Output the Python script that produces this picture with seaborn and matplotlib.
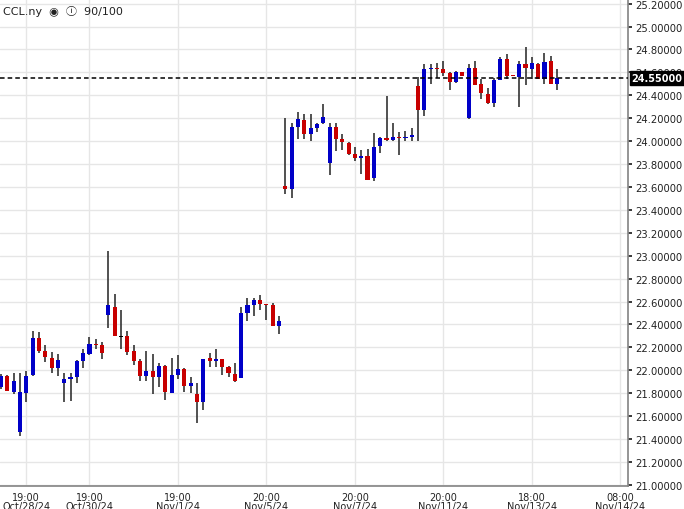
import numpy as np
import pandas as pd
import seaborn as sns
import matplotlib.pyplot as plt
from matplotlib.ticker import FormatStrFormatter

opens = [21.85, 21.95, 21.81, 21.46, 21.80, 21.96, 22.28, 22.17, 22.11, 22.02,
         21.89, 21.92, 21.94, 22.08, 22.14, 22.23, 22.22, 22.48, 22.55, 22.29,
         22.30, 22.17, 22.08, 21.95, 21.99, 21.94, 22.04, 21.80, 21.96, 22.01,
         21.86, 21.79, 21.72, 22.11, 22.08, 22.10, 22.03, 21.97, 21.93, 22.50,
         22.57, 22.61, 22.58, 22.57, 22.39,
         23.61, 23.58, 24.12, 24.18, 24.06, 24.11, 24.16, 23.81, 24.12, 24.02,
         23.98, 23.89, 23.85, 23.87, 23.68, 23.96, 24.03, 24.01, 24.04, 24.03,
         24.04, 24.48, 24.27, 24.63, 24.64, 24.63, 24.59, 24.52, 24.60, 24.20,
         24.64, 24.50, 24.41, 24.33, 24.53, 24.72, 24.58, 24.56, 24.67, 24.63,
         24.67, 24.54, 24.70, 24.50]
closes = [21.95, 21.82, 21.91, 21.81, 21.95, 22.28, 22.17, 22.12, 22.02, 22.09,
          21.92, 21.94, 22.08, 22.15, 22.23, 22.22, 22.15, 22.57, 22.30, 22.29,
          22.16, 22.08, 21.95, 21.99, 21.94, 22.04, 21.81, 21.96, 22.01, 21.86,
          21.89, 21.72, 22.10, 22.08, 22.10, 22.03, 21.98, 21.91, 22.50, 22.57,
          22.61, 22.58, 22.57, 22.39, 22.43,
          23.58, 24.12, 24.19, 24.06, 24.11, 24.15, 24.21, 24.12, 24.02, 23.99,
          23.89, 23.85, 23.87, 23.66, 23.95, 24.03, 24.01, 24.04, 24.03, 24.04,
          24.05, 24.27, 24.63, 24.64, 24.63, 24.59, 24.52, 24.60, 24.57, 24.64,
          24.49, 24.42, 24.33, 24.53, 24.72, 24.57, 24.57, 24.67, 24.64, 24.68,
          24.54, 24.69, 24.50, 24.55]
highs = [21.97, 21.96, 21.98, 21.98, 21.99, 22.34, 22.33, 22.22, 22.16, 22.14,
         21.98, 21.98, 22.09, 22.19, 22.29, 22.27, 22.25, 23.04, 22.67, 22.53,
         22.34, 22.22, 22.10, 22.17, 22.14, 22.06, 22.05, 22.11, 22.13, 22.02,
         21.94, 21.89, 22.10, 22.15, 22.19, 22.10, 22.04, 22.06, 22.55, 22.63,
         22.63, 22.66, 22.58, 22.59, 22.47,
         24.20, 24.16, 24.25, 24.24, 24.24, 24.16, 24.32, 24.16, 24.16, 24.06,
         23.99, 23.95, 23.92, 23.93, 24.07, 24.04, 24.39, 24.16, 24.08, 24.09,
         24.11, 24.56, 24.67, 24.67, 24.68, 24.70, 24.60, 24.61, 24.60, 24.67,
         24.70, 24.54, 24.46, 24.55, 24.73, 24.76, 24.58, 24.70, 24.82, 24.73,
         24.68, 24.77, 24.74, 24.63]
lows = [21.84, 21.82, 21.79, 21.43, 21.72, 21.95, 22.15, 22.07, 21.98, 21.95,
        21.72, 21.73, 21.89, 22.02, 22.13, 22.19, 22.10, 22.37, 22.30, 22.19,
        22.13, 22.05, 21.91, 21.91, 21.79, 21.85, 21.74, 21.80, 21.92, 21.81,
        21.80, 21.54, 21.65, 22.03, 22.03, 21.96, 21.94, 21.90, 21.93, 22.43,
        22.47, 22.53, 22.44, 22.39, 22.32,
        23.54, 23.50, 24.02, 24.02, 24.00, 24.08, 24.15, 23.70, 23.91, 23.92,
        23.88, 23.83, 23.71, 23.66, 23.65, 23.90, 24.00, 24.00, 23.88, 24.00,
        24.00, 24.00, 24.22, 24.50, 24.55, 24.57, 24.45, 24.51, 24.57, 24.19,
        24.49, 24.37, 24.32, 24.30, 24.53, 24.54, 24.57, 24.30, 24.49, 24.54,
        24.54, 24.50, 24.50, 24.45]

tick_pos = [4, 14, 28, 42, 56, 70, 84, 98]
tick_labels = ["19:00\nOct/28/24", "19:00\nOct/30/24", "19:00\nNov/1/24",
               "20:00\nNov/5/24", "20:00\nNov/7/24", "20:00\nNov/11/24",
               "18:00\nNov/13/24", "08:00\nNov/14/24"]
last_price = 24.55

df = pd.DataFrame({"open": opens, "close": closes, "high": highs, "low": lows})
df["i"] = np.arange(len(df))
df["bottom"] = df[["open", "close"]].min(axis=1)
df["height"] = (df["close"] - df["open"]).abs()
df["color"] = np.where(df["close"] > df["open"], "#0000c8",
                       np.where(df["close"] < df["open"], "#c80000", "#000000"))

sns.set_theme(style="white")
plt.rcParams["font.family"] = ["DejaVu Sans", "Noto Sans CJK SC"]

fig = plt.figure(figsize=(6.84, 5.10), dpi=100)
ax = fig.add_axes([0.0, 0.045, 0.918, 0.955])

ax.vlines(df["i"], df["low"], df["high"], color="#333333", linewidth=1.2, zorder=2)
ax.bar(df["i"], np.maximum(df["height"], 0.008), bottom=df["bottom"], width=0.65,
       color=df["color"], linewidth=0, zorder=3)

ax.axhline(last_price, color="black", linestyle=(0, (3, 2)), linewidth=1.1, zorder=4)

ax.set_xlim(-0.16, 99.2)
ax.set_ylim(20.99, 25.24)
ax.set_yticks(np.arange(21.0, 25.21, 0.2))
ax.yaxis.set_major_formatter(FormatStrFormatter("%.5f"))
ax.yaxis.tick_right()
ax.set_xticks(tick_pos)
ax.set_xticklabels(tick_labels, linespacing=0.95)
ax.tick_params(axis="y", labelsize=7.2, length=3, colors="#222222", pad=2)
ax.tick_params(axis="x", labelsize=7, length=3, colors="#222222", pad=1)
ax.grid(True, color="#e6e6e6", linewidth=1)
for s in ["top", "left"]:
    ax.spines[s].set_visible(False)
ax.spines["right"].set_color("#888888")
ax.spines["bottom"].set_color("#888888")

ax.text(1.006, last_price, "24.55000", transform=ax.get_yaxis_transform(),
        fontsize=7, color="white", fontweight="bold", va="center", ha="left",
        bbox=dict(boxstyle="square,pad=0.2", fc="black", ec="black"), zorder=5)

ax.text(0.005, 0.977, "CCL.ny  \u25c9  \u24d8  90/100", transform=ax.transAxes,
        fontsize=8, color="#222222", va="center", ha="left")

fig.savefig("out.png", dpi=100)
